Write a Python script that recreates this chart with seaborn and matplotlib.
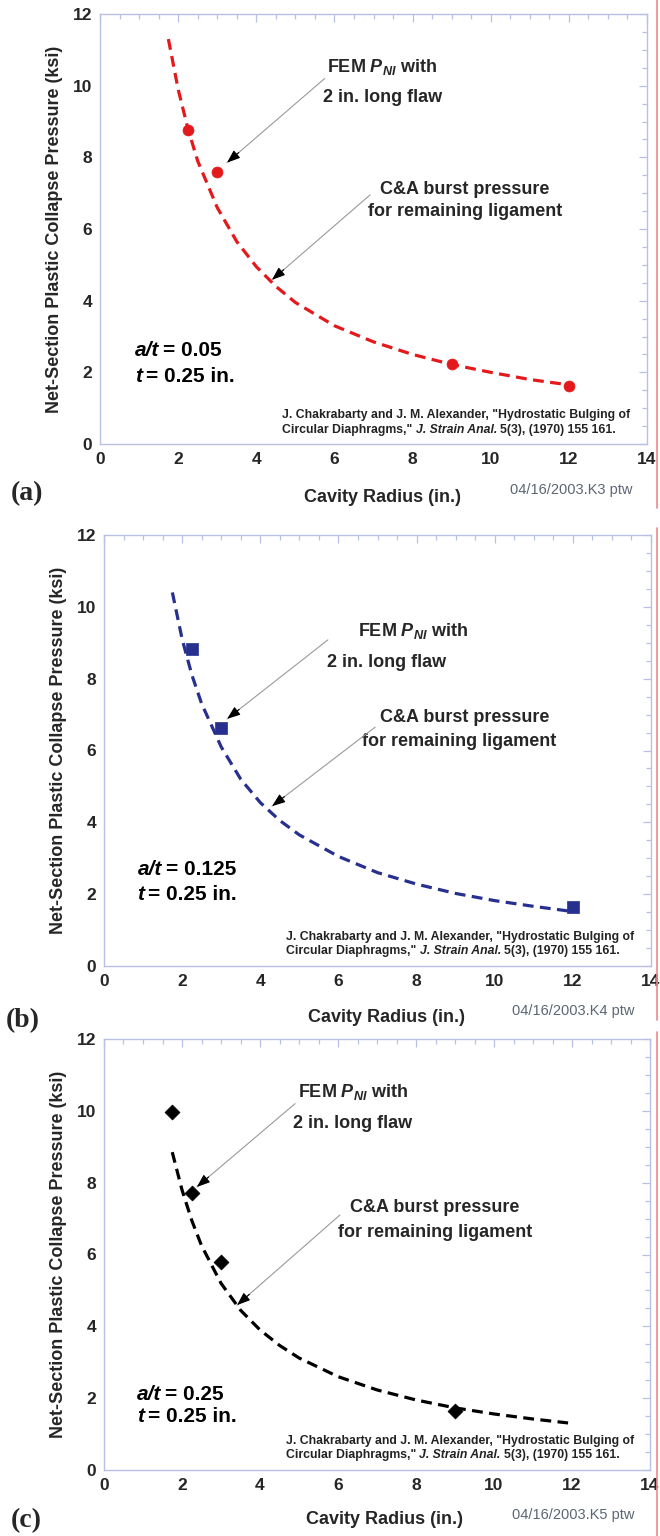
import matplotlib
matplotlib.use("Agg")
import matplotlib.pyplot as plt
import seaborn as sns
from matplotlib.lines import Line2D
from matplotlib.ticker import MultipleLocator

# ---------------- data ----------------
# panel (a): a/t = 0.05
curve_a_x = [1.75, 2.0, 2.25, 2.5, 3.0, 3.5, 4.0, 4.5, 5.0, 6.0, 7.0, 8.0, 9.0, 10.0, 11.0, 12.0]
curve_a_y = [11.3, 9.9, 8.8, 7.9, 6.6, 5.65, 4.95, 4.4, 3.95, 3.3, 2.85, 2.5, 2.22, 2.0, 1.8, 1.65]
fem_a_x = [2.25, 3.0, 9.0, 12.0]
fem_a_y = [8.75, 7.6, 2.23, 1.63]

# panel (b): a/t = 0.125
curve_b_x = [1.75, 2.0, 2.25, 2.5, 3.0, 3.5, 4.0, 4.5, 5.0, 6.0, 7.0, 8.0, 9.0, 10.0, 11.0, 11.9]
curve_b_y = [10.4, 9.1, 8.1, 7.3, 6.1, 5.2, 4.55, 4.05, 3.65, 3.05, 2.6, 2.28, 2.02, 1.82, 1.66, 1.53]
fem_b_x = [2.25, 3.0, 12.0]
fem_b_y = [8.83, 6.63, 1.64]

# panel (c): a/t = 0.25
curve_c_x = [1.75, 2.0, 2.25, 2.5, 3.0, 3.5, 4.0, 4.5, 5.0, 6.0, 7.0, 8.0, 9.0, 10.0, 11.0, 11.9]
curve_c_y = [8.85, 7.8, 6.95, 6.25, 5.2, 4.45, 3.9, 3.47, 3.12, 2.6, 2.23, 1.95, 1.73, 1.56, 1.42, 1.31]
fem_c_x = [1.75, 2.25, 3.0, 9.0]
fem_c_y = [9.97, 7.71, 5.79, 1.64]

panel_tags = ["(a)", "(b)", "(c)"]
ratio_labels = ["0.05", "0.125", "0.25"]
date_labels = ["04/16/2003.K3 ptw", "04/16/2003.K4 ptw", "04/16/2003.K5 ptw"]

# ---------------- style ----------------
sns.set_style("white")
plt.rcParams['font.family'] = ['Liberation Sans', 'DejaVu Sans']
plt.rcParams['font.weight'] = 'bold'
plt.rcParams['axes.labelweight'] = 'bold'
plt.rcParams['mathtext.fontset'] = 'custom'
plt.rcParams['mathtext.it'] = 'Liberation Sans:italic:bold'
plt.rcParams['mathtext.rm'] = 'Liberation Sans:bold'
plt.rcParams['mathtext.bf'] = 'Liberation Sans:bold'

W, H = 660, 1536
fig = plt.figure(figsize=(W / 100, H / 100), dpi=100)

spine_col = '#b9c0e6'
colors = ['#e3191c', '#27308f', '#000000']
markers = ['o', 's', 'D']
msizes = [62, 64, 58]

# axes boxes in pixels: left, right, top, bottom
boxes = [(100, 647, 14, 444), (104, 651, 535, 966), (104, 650, 1039, 1470)]

curves = [(curve_a_x, curve_a_y), (curve_b_x, curve_b_y), (curve_c_x, curve_c_y)]
fems = [(fem_a_x, fem_a_y), (fem_b_x, fem_b_y), (fem_c_x, fem_c_y)]

# annotation placement (data coords)
fem_line1 = [(7.22, 10.52), (7.92, 9.33), (6.38, 10.52)]
fem_line2 = [(7.22, 9.66), (7.22, 8.46), (6.38, 9.66)]
fem_arrow = [((5.75, 10.2), (3.25, 7.85)), ((5.73, 9.08), (3.15, 6.88)), ((4.9, 10.2), (2.38, 7.88))]
ca_line1 = [(9.34, 7.09), (9.24, 6.93), (8.49, 7.32)]
ca_line2 = [(9.34, 6.5), (9.1, 6.24), (8.49, 6.6)]
ca_arrow = [((6.91, 6.95), (4.40, 4.58)), ((6.94, 6.65), (4.3, 4.45)), ((6.05, 7.1), (3.41, 4.59))]
ratio_pos = [(0.9, 2.6, 1.87), (0.86, 2.70, 1.98), (0.85, 2.09, 1.48)]
cite_x = 4.66
cite_y = [(0.81, 0.40), (0.81, 0.42), (0.81, 0.42)]
xlabel_px = [(383, 497), (386, 1017), (385, 1520)]
tag_px = [(11, 494), (6, 1021), (11, 1521)]
date_px = [(632, 490), (635, 1011), (634, 1515)]


def arrow(ax, start, tip):
    ax.annotate('', xy=tip, xytext=start,
                arrowprops=dict(arrowstyle='-', color='#9a9a9a', lw=0.8,
                                shrinkA=0, shrinkB=0))
    sx, sy = start
    tx, ty = tip
    hx = tx + 0.12 * (sx - tx)
    hy = ty + 0.12 * (sy - ty)
    ax.annotate('', xy=tip, xytext=(hx, hy),
                arrowprops=dict(arrowstyle='-|>,head_length=0.8,head_width=0.3',
                                color='black', lw=0.8, shrinkA=0, shrinkB=0))


def chain(ax, x, y, pieces, size, color='black'):
    """Write text pieces (text, italic, gap) one after another on a line."""
    first_txt, first_it = pieces[0]
    prev = ax.text(x, y, first_txt, ha='left', va='center', fontsize=size,
                   fontweight='bold', style='italic' if first_it else 'normal',
                   color=color)
    for txt, it, sp in pieces[1:]:
        prev = ax.annotate(txt, xy=(1, 0), xycoords=prev,
                           xytext=(sp * size, 0), textcoords='offset points',
                           ha='left', va='bottom', fontsize=size, fontweight='bold',
                           style='italic' if it else 'normal', color=color)
    return prev


for i in range(3):
    l, r, t, b = boxes[i]
    ax = fig.add_axes([l / W, 1 - b / H, (r - l) / W, (b - t) / H])
    cx, cy = curves[i]
    fx, fy = fems[i]
    sns.lineplot(x=cx, y=cy, ax=ax, color=colors[i], lw=2.3,
                 linestyle=(0, (3.4, 2.0)), sort=False, estimator=None)
    sns.scatterplot(x=fx, y=fy, ax=ax, color=colors[i], marker=markers[i],
                    s=msizes[i], edgecolor=colors[i], linewidth=0.5, zorder=4)

    ax.set_xlim(0, 14)
    ax.set_ylim(0, 12)
    ax.xaxis.set_major_locator(MultipleLocator(2))
    ax.xaxis.set_minor_locator(MultipleLocator(0.5))
    ax.yaxis.set_major_locator(MultipleLocator(2))
    ax.yaxis.set_minor_locator(MultipleLocator(0.5))
    ax.tick_params(which='both', direction='in', top=True, right=True,
                   color=spine_col, width=0.9)
    ax.tick_params(which='major', length=6, labelsize=12.5)
    ax.tick_params(which='minor', length=3.5)
    ax.tick_params(axis='x', which='major', pad=6)
    ax.tick_params(axis='y', which='major', pad=5.5)
    for lab in ax.get_xticklabels() + ax.get_yticklabels():
        lab.set_fontweight('bold')
    for s in ax.spines.values():
        s.set_color(spine_col)
        s.set_linewidth(1.0)

    ax.set_ylabel('Net-Section Plastic Collapse Pressure (ksi)', fontsize=13,
                  fontweight='bold')
    ax.yaxis.set_label_coords(-0.068, 0.5)
    ax.set_xlabel('')

    fig.text(xlabel_px[i][0] / W, 1 - xlabel_px[i][1] / H, 'Cavity Radius (in.)',
             ha='center', va='center', fontsize=13, fontweight='bold')
    fig.text(tag_px[i][0] / W, 1 - tag_px[i][1] / H, panel_tags[i],
             ha='left', va='center', fontsize=20, fontweight='bold',
             family=['Liberation Serif', 'DejaVu Serif'])
    fig.text(date_px[i][0] / W, 1 - date_px[i][1] / H, date_labels[i],
             ha='right', va='center', fontsize=10.5, fontweight='normal',
             color='#5d6675')

    # annotations
    ax.text(*fem_line1[i], r'FEM $P_{NI}$ with', ha='center', va='center',
            fontsize=13, fontweight='bold')
    ax.text(*fem_line2[i], '2 in. long flaw', ha='center', va='center',
            fontsize=13, fontweight='bold')
    arrow(ax, *fem_arrow[i])
    ax.text(*ca_line1[i], 'C&A burst pressure', ha='center', va='center',
            fontsize=13, fontweight='bold')
    ax.text(*ca_line2[i], 'for remaining ligament', ha='center', va='center',
            fontsize=13, fontweight='bold')
    arrow(ax, *ca_arrow[i])

    rx, ry1, ry2 = ratio_pos[i]
    chain(ax, rx, ry1, [('a/t', True), ('= ' + ratio_labels[i], False, 0.18)], 15)
    chain(ax, rx, ry2, [('t', True), ('= 0.25 in.', False, 0.18)], 15)

    ax.text(cite_x, cite_y[i][0],
            'J. Chakrabarty and J. M. Alexander, "Hydrostatic Bulging of',
            ha='left', va='center', fontsize=8.8, fontweight='bold', color='#222222')
    chain(ax, cite_x, cite_y[i][1],
          [('Circular Diaphragms,"', False),
           ('J. Strain Anal.', True, 0.28),
           ('5(3), (1970) 155 161.', False, 0.28)], 8.8, color='#222222')

# thin red rule at the right margin
for y0, y1 in [(0, 508), (528, 1020), (1032, 1536)]:
    fig.add_artist(Line2D([657 / W, 657 / W], [1 - y0 / H, 1 - y1 / H],
                          transform=fig.transFigure, color='#f08a8a', lw=1.2))

fig.savefig('out.png', dpi=100)
